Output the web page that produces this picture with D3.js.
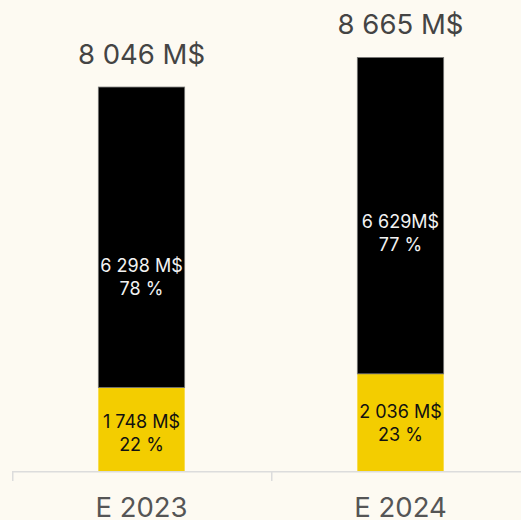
<!DOCTYPE html>
<html>
<head>
<meta charset="utf-8">
<script src="https://cdn.jsdelivr.net/npm/d3@7"></script>
<style>
  html, body { margin: 0; padding: 0; background: #fdfaf2; }
  svg { display: block; font-family: Inter, "Noto Sans", sans-serif; }
</style>
</head>
<body>
<svg id="chart" width="521" height="520"></svg>
<script>
const categories = ["E 2023", "E 2024"];
const blackValues = [6298, 6629];
const yellowValues = [1748, 2036];
const totals = [8046, 8665];
const blackLabels = ["6 298 M$", "6 629M$"];
const blackPct = ["78 %", "77 %"];
const yellowLabels = ["1 748 M$", "2 036 M$"];
const yellowPct = ["22 %", "23 %"];
const totalLabels = ["8 046 M$", "8 665 M$"];

const W = 521, H = 520;
const baseY = 471;
const svg = d3.select("#chart");
svg.append("rect").attr("width", W).attr("height", H).attr("fill", "#fdfaf2");

const x = d3.scaleBand().domain(categories).range([12, 530]).padding(0);
const y = d3.scaleLinear().domain([0, 9000]).range([baseY, baseY - 9000 * 0.04772]);
const barW = x.bandwidth() / 3;
const cx = c => x(c) + x.bandwidth() / 2;

// layout nudges for inner labels (px)
const blackNudge = [40, 17];
const yellowNudge = [4, 1];

const rows = categories.map((c, i) => ({
  c, i,
  yellow: yellowValues[i],
  black: blackValues[i],
  total: totals[i]
}));

// yellow segments
svg.selectAll(".ybar").data(rows).join("rect")
  .attr("x", d => cx(d.c) - barW / 2)
  .attr("width", barW)
  .attr("y", d => y(d.yellow))
  .attr("height", d => y(0) - y(d.yellow))
  .attr("fill", "#f3cd00");

// black segments
svg.selectAll(".bbar").data(rows).join("rect")
  .attr("x", d => cx(d.c) - barW / 2)
  .attr("width", barW)
  .attr("y", d => y(d.yellow + d.black))
  .attr("height", d => y(d.yellow) - y(d.yellow + d.black))
  .attr("fill", "#000")
  .attr("stroke", "#777")
  .attr("stroke-width", 0.8);

// axis
const ax = svg.append("g");
ax.append("line").attr("x1", x.range()[0]).attr("x2", x.range()[1])
  .attr("y1", baseY + 0.75).attr("y2", baseY + 0.75)
  .attr("stroke", "#dcdcdc").attr("stroke-width", 1.5);
const tickXs = categories.map(c => x(c)).concat([x.range()[1]]);
ax.selectAll(".tk").data(tickXs).join("line")
  .attr("x1", d => d + 0.75).attr("x2", d => d + 0.75)
  .attr("y1", baseY).attr("y2", baseY + 10)
  .attr("stroke", "#dcdcdc").attr("stroke-width", 1.5);
ax.selectAll(".cat").data(categories).join("text")
  .attr("x", d => cx(d)).attr("y", 517)
  .attr("text-anchor", "middle")
  .attr("font-size", 27.5)
  .attr("fill", "#555")
  .text(d => d);

// totals
svg.selectAll(".tot").data(rows).join("text")
  .attr("x", d => cx(d.c))
  .attr("y", d => y(d.total) - 23.5)
  .attr("text-anchor", "middle")
  .attr("font-size", 27.5)
  .attr("fill", "#444")
  .text(d => totalLabels[d.i]);

// inner labels
function innerLabel(sel, yMid, l1, l2, color) {
  const g = svg.append("g").attr("fill", color).attr("font-size", 18).attr("text-anchor", "middle");
  rows.forEach(d => {
    const m = yMid(d);
    g.append("text").attr("x", cx(d.c)).attr("y", m - 11.5).attr("dominant-baseline", "central").text(l1[d.i]);
    g.append("text").attr("x", cx(d.c)).attr("y", m + 11.5).attr("dominant-baseline", "central").text(l2[d.i]);
  });
}
innerLabel(null, d => (y(d.yellow) + y(d.yellow + d.black)) / 2 + blackNudge[d.i], blackLabels, blackPct, "#f2f2f2");
innerLabel(null, d => (y(0) + y(d.yellow)) / 2 + yellowNudge[d.i], yellowLabels, yellowPct, "#111");
</script>
</body>
</html>
